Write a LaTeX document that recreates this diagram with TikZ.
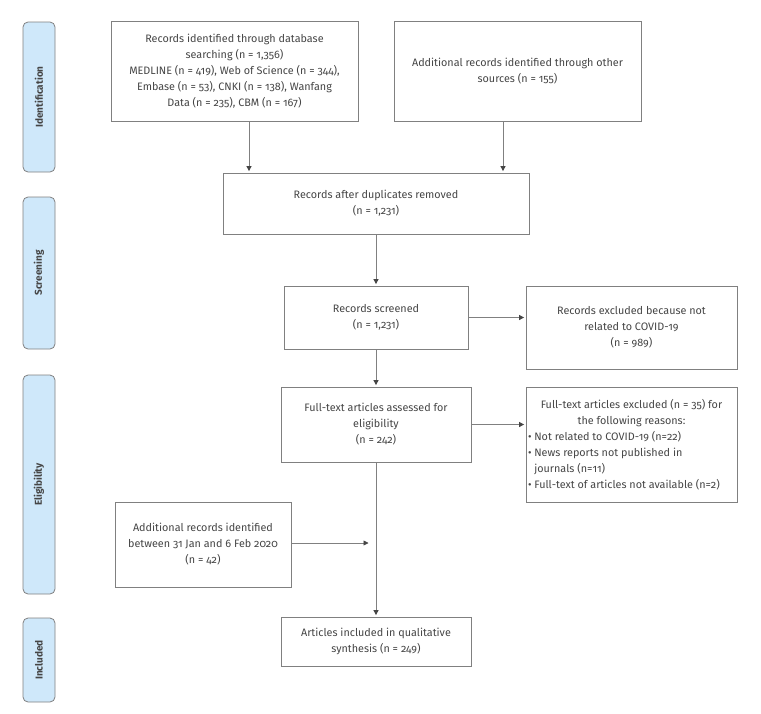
\documentclass[tikz,border=0pt]{standalone}
\usepackage{fontspec}
\setmainfont{Fira Sans}[Numbers=OldStyle]
\usetikzlibrary{arrows.meta}
\definecolor{linegray}{HTML}{808080}
\definecolor{txtgray}{HTML}{454545}
\definecolor{phaseblue}{HTML}{CFE8FA}
\tikzset{
  box/.style={draw=linegray, line width=0.8pt, align=center, text=txtgray,
    inner sep=2pt, font=\fontsize{10.8}{16}\selectfont},
  phase/.style={draw=linegray, line width=0.8pt, fill=phaseblue, rounded corners=5pt,
    rotate=90, minimum height=32pt, text=txtgray,
    font=\fontsize{10}{11}\selectfont\bfseries},
  arr/.style={draw=linegray, line width=0.8pt,
    -{Triangle[length=5pt,width=5pt,color=txtgray]}, shorten >=1.5pt}
}
\begin{document}
\begin{tikzpicture}[x=1pt,y=-1pt]
    \useasboundingbox (0,0) rectangle (761,713);
    % phases
    \node[phase, minimum width=150pt] (ident) at (39,97) {Identification};
    \node[phase, minimum width=152pt] (screen) at (39,273) {Screening};
    \node[phase, minimum width=219pt] (elig) at (39,484.5) {Eligibility};
    \node[phase, minimum width=84pt] (incl) at (39,660) {Included};
    % boxes
    \node[box, minimum width=247pt, minimum height=100pt] (db) at (234.5,71.5)
        {Records identified through database\\ searching (n = 1,356)\\
         MEDLINE (n = 419), Web of Science (n = 344),\\
         Embase (n = 53), CNKI (n = 138), Wanfang\\ Data (n = 235), CBM (n = 167)};
    \node[box, minimum width=247pt, minimum height=100pt] (other) at (517.5,71.5)
        {Additional records identified through other\\ sources (n = 155)};
    \node[box, minimum width=306pt, minimum height=61pt] (dup) at (376,203.5)
        {Records after duplicates removed\\ (n = 1,231)};
    \node[box, minimum width=184pt, minimum height=63pt] (screened) at (376,317.5)
        {Records screened\\ (n = 1,231)};
    \node[box, minimum width=211pt, minimum height=83pt] (excl) at (631.5,327.5)
        {Records excluded because not\\ related to COVID-19\\ (n = 989)};
    \node[box, minimum width=211pt, minimum height=115pt, inner sep=0pt] (fullexcl) at (631.5,444.5)
        {\parbox{207pt}{\centering Full-text articles excluded (n = 35) for\\
         the following reasons:\par\raggedright
         \textbullet\ Not related to COVID-19 (n=22)\\
         \textbullet\ News reports not published in\\
         \phantom{\textbullet\ }journals (n=11)\\
         \textbullet\ Full-text of articles not available (n=2)}};
    \node[box, minimum width=190pt, minimum height=75pt] (full) at (376,424.5)
        {Full-text articles assessed for\\ eligibility\\ (n = 242)};
    \node[box, minimum width=176pt, minimum height=85pt] (add) at (203,544.5)
        {Additional records identified\\ between 31 Jan and 6 Feb 2020\\ (n = 42)};
    \node[box, minimum width=190pt, minimum height=49pt] (final) at (376,641.5)
        {Articles included in qualitative\\ synthesis (n = 249)};
    \coordinate (join) at (370,543);
    % arrows
    \draw[arr] ([xshift=14.5pt]db.south) -- ([xshift=14.5pt]db.south |- dup.north);
    \draw[arr] ([xshift=-14.5pt]other.south) -- ([xshift=-14.5pt]other.south |- dup.north);
    \draw[arr] (dup) -- (screened);
    \draw[arr] (screened) -- (excl.west |- screened);
    \draw[arr] (screened) -- (full);
    \draw[arr] (full) -- (fullexcl.west |- full);
    \draw[arr] (full) -- (final);
    \draw[arr] (add.east |- join) -- (join);
\end{tikzpicture}
\end{document}
